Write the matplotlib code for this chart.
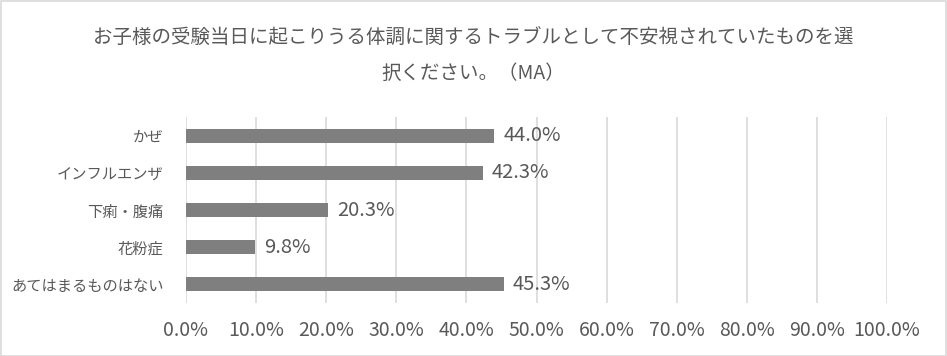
import matplotlib
matplotlib.use("Agg")
import matplotlib.pyplot as plt
from matplotlib.patches import Rectangle

plt.rcParams['font.family'] = ['Noto Sans CJK JP', 'DejaVu Sans']

# Data
categories = ["かぜ", "インフルエンザ", "下痢・腹痛", "花粉症", "あてはまるものはない"]
values = [44.0, 42.3, 20.3, 9.8, 45.3]
xticks = list(range(0, 101, 10))
title_lines = ["お子様の受験当日に起こりうる体調に関するトラブルとして不安視されていたものを選",
               "択ください。（MA）"]

text_color = "#595959"
grid_color = "#d9d9d9"
bar_color = "#7f7f7f"

fig = plt.figure(figsize=(9.47, 3.56), dpi=100)
ax = fig.add_axes([186 / 947, 1 - 303 / 356, 701 / 947, 186 / 356])

ypos = list(range(len(categories)))
ax.barh(ypos, values, height=0.38, color=bar_color, zorder=3)
for y, v in zip(ypos, values):
    ax.annotate(f"{v:.1f}%", (v, y), xytext=(9, 0), textcoords="offset pixels",
                va="center", ha="left", fontsize=14.5, color=text_color)

ax.set_xlim(0, 100)
ax.set_ylim(len(categories) - 0.5, -0.5)
ax.set_yticks(ypos)
ax.set_yticklabels(categories)
ax.set_xticks(xticks)
ax.set_xticklabels([f"{t:.1f}%" for t in xticks])
ax.tick_params(axis="x", length=0, pad=12, labelsize=14, labelcolor=text_color)
ax.tick_params(axis="y", length=0, pad=16, labelsize=11, labelcolor=text_color)
ax.grid(axis="x", color=grid_color, linewidth=1.2, zorder=0)
for s in ax.spines.values():
    s.set_visible(False)

# two-line title
for i, line in enumerate(title_lines):
    fig.text(0.5, 1 - (38 + 35 * i) / 356, line, ha="center", va="center",
             fontsize=14, color=text_color)

# outer border
fig.patches.append(Rectangle((0.5 / 947, 0.5 / 356), 1 - 1.5 / 947, 1 - 1.5 / 356,
                             transform=fig.transFigure, fill=False,
                             edgecolor=grid_color, linewidth=1.2))

fig.savefig("out.png", dpi=100)
